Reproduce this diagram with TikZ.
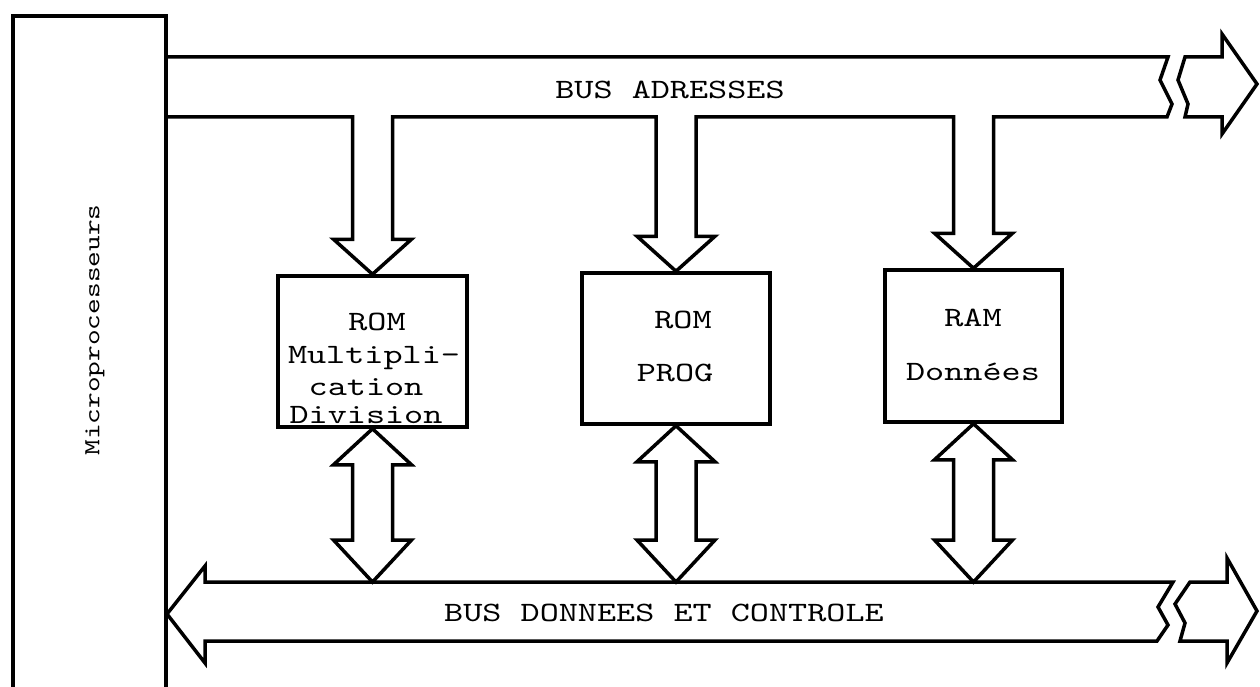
\documentclass[tikz,border=0pt]{standalone}
\usepackage{fontspec}
\newfontfamily\typewriter{lmmono10-regular.otf}[FakeStretch=1.3]
\usetikzlibrary{calc}
\begin{document}
\begin{tikzpicture}[x=1pt,y=-1pt,
  outline/.style={line width=3.5pt, line join=miter, line cap=round},
  membox/.style={draw, line width=3.5pt, inner sep=0pt},
  lbl/.style={font=\typewriter\fontsize{28}{32}\selectfont, inner sep=0pt, anchor=base},
  cpulbl/.style={font=\typewriter\fontsize{23}{30}\selectfont, inner sep=0pt, rotate=90},
]
\useasboundingbox (0,0) rectangle (1260,687);

% bus reference lines
\coordinate (abus) at (0,117);
\coordinate (dbus) at (0,582);

% microprocessor (open at the bottom)
\draw[outline] (13,700) -- (13,16) -- (166,16) -- (166,700);
\node[cpulbl] (cpu) at (95,330) {Microprocesseurs};

% memories
\node[membox, minimum width=189pt, minimum height=151pt] (m1) at (372.5,351.5) {};
\node[membox, minimum width=188pt, minimum height=151pt] (m2) at (676,348.5) {};
\node[membox, minimum width=177pt, minimum height=152pt] (m3) at (973.5,346) {};

\node[lbl] (m1a) at (377,330) {ROM};
\node[lbl] (m1b) at (374,363) {Multipli-};
\node[lbl] (m1c) at (366,395) {cation};
\node[lbl] (m1d) at (366,423) {Division};
\node[lbl] (m2a) at (683,328) {ROM};
\node[lbl] (m2b) at (675,381) {PROG};
\node[lbl] (m3a) at (973,326) {RAM};
\node[lbl] (m3b) at (973,380) {Données};

% arrow points for the address bus branches
\foreach \b in {m1,m2,m3}{
  \path (\b.north) +(-20,-35) coordinate (\b-lw) +(-39,-35) coordinate (\b-hl)
        +(39,-35) coordinate (\b-hr) +(20,-35) coordinate (\b-rw);
}

% address bus with its three branches and the broken end
\draw[outline] (166,117)
  -- (m1-lw |- abus) -- (m1-lw) -- (m1-hl) -- (m1.north) -- (m1-hr) -- (m1-rw) -- (m1-rw |- abus)
  -- (m2-lw |- abus) -- (m2-lw) -- (m2-hl) -- (m2.north) -- (m2-hr) -- (m2-rw) -- (m2-rw |- abus)
  -- (m3-lw |- abus) -- (m3-lw) -- (m3-hl) -- (m3.north) -- (m3-hr) -- (m3-rw) -- (m3-rw |- abus)
  -- (1167,117) -- (1172,104) -- (1160,80) -- (1168,57) -- (166,57);
\draw[outline] (1185,57) -- (1178,80) -- (1188,104) -- (1185,117) -- (1222,117)
  -- (1222,134) -- (1257,84) -- (1222,34) -- (1222,57) -- cycle;
\node[lbl] (abl) at (670,99) {BUS ADRESSES};

% two-way links between memories and the data bus
\foreach \b in {m1,m2,m3}{
  \path (\b.south |- dbus) coordinate (\b-bt);
  \draw[outline] (\b.south) -- ++(-39,36) -- ++(19,0) -- ($(\b-bt)+(-20,-42)$) -- ++(-19,0)
    -- (\b-bt) -- ++(39,-42) -- ++(-19,0) -- ($(\b.south)+(20,36)$) -- ++(19,0) -- cycle;
}

% data and control bus
\draw[outline] (1173,582) -- (205,582) -- (205,566) -- (167,614) -- (205,663) -- (205,641)
  -- (1157,641) -- (1168,625) -- (1158,607) -- cycle;
\draw[outline] (1190,582) -- (1175,604) -- (1185,623) -- (1180,641) -- (1227,641)
  -- (1227,663) -- (1257,611) -- (1227,558) -- (1227,582) -- cycle;
\node[lbl] (dbl) at (664,621) {BUS DONNEES ET CONTROLE};
\end{tikzpicture}
\end{document}
